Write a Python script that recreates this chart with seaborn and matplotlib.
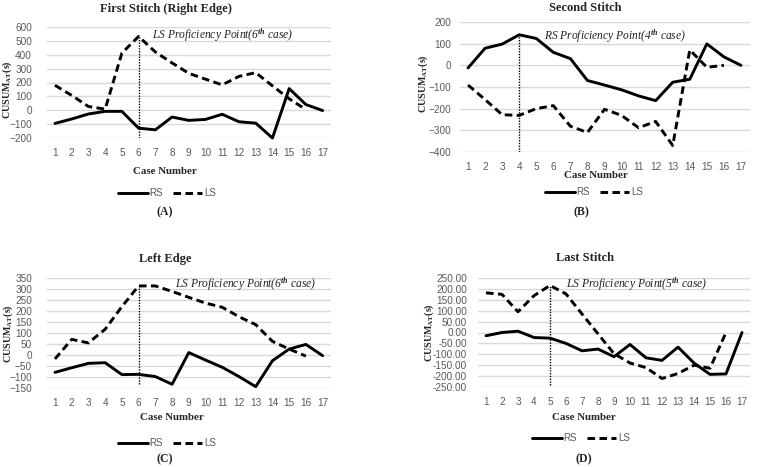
import numpy as np
import pandas as pd
import matplotlib
matplotlib.use("Agg")
import matplotlib.pyplot as plt
import seaborn as sns

# ---------------- data ----------------
cases = list(range(1, 18))
tick_labels = [str(c) for c in cases]

a_rs = [-95, -63, -27, -8, -8, -129, -141, -49, -73, -66, -29, -83, -93, -200, 156, 41, -2]
a_ls = [180, 107, 27, 8, 412, 532, 420, 341, 266, 224, 183, 244, 271, 176, 83, 5]

b_rs = [-12, 79, 98, 141, 124, 60, 31, -70, -91, -113, -141, -163, -78, -64, 99, 39, 0]
b_ls = [-91, -158, -228, -231, -200, -186, -281, -310, -203, -231, -288, -259, -370, 71, -9, 0]

c_rs = [-79, -58, -38, -35, -89, -88, -98, -133, 11, -23, -56, -98, -144, -26, 27, 48, -3]
c_ls = [-18, 71, 55, 117, 220, 314, 314, 289, 262, 236, 217, 174, 138, 62, 27, -5]

d_rs = [-15, 0, 6, -23, -26, -50, -84, -76, -111, -55, -116, -128, -67, -140, -192, -190, 0]
d_ls = [182, 175, 95, 169, 216, 177, 85, -6, -97, -140, -161, -211, -188, -150, -164, 0]

titles = ["First Stitch (Right Edge)", "Second Stitch", "Left Edge", "Last Stitch"]
panel_tags = ["(A)", "(B)", "(C)", "(D)"]
annotations = ["LS Proficiency Point(6$^{th}$ case)", "RS Proficiency Point(4$^{th}$ case)",
               "LS Proficiency Point(6$^{th}$ case)", "LS Proficiency Point(5$^{th}$ case)"]
prof_case = [6, 4, 6, 5]
prof_series = ["LS", "RS", "LS", "LS"]

# ---------------- style ----------------
sns.set_theme(style="white")
plt.rcParams["font.family"] = ["Liberation Sans", "DejaVu Sans"]
plt.rcParams["mathtext.fontset"] = "custom"
plt.rcParams["mathtext.rm"] = "Liberation Serif:bold"
plt.rcParams["mathtext.it"] = "Liberation Serif:italic:bold"
plt.rcParams["mathtext.bf"] = "Liberation Serif:bold"

W, H = 757, 467
fig = plt.figure(figsize=(W / 100, H / 100), dpi=100)

def fx(x):
    return x / W

def fy(y):
    return 1 - y / H

serif = ["Liberation Serif", "DejaVu Serif"]

# pixel layout: (left, right, top, bottom)
boxes = [(46.6, 331, 27, 138), (459.5, 749.5, 22, 152), (46.6, 331, 278, 388), (478, 750, 278, 387)]
ylims = [(-200, 600, 100), (-400, 200, 100), (-150, 350, 50), (-250, 250, 50)]
ypads = [10.5, 6, 10.5, 8]
title_pos = [(166, 9), (585, 8), (165, 259), (585, 258)]
xlabel_pos = [(165, 172), (596, 176), (172, 418), (584, 417)]
ylabel_pos = [(7.5, 90), (423, 84), (8, 334), (429, 333)]
legend_pos = [(167, 193), (594, 192), (167, 443), (581, 438)]
tag_pos = [(165, 212), (581, 212), (165, 459), (584, 459)]
ann_pos = [(6.8, 542), (5.45, 135), (8.2, 323), (6.0, 222)]
vline_bottom = [-200, -400, -130, -240]

series = [(a_rs, a_ls), (b_rs, b_ls), (c_rs, c_ls), (d_rs, d_ls)]

for i, (rs, ls) in enumerate(series):
    l, r, t, b = boxes[i]
    ax = fig.add_axes([fx(l), fy(b), fx(r - l), (b - t) / H])
    ymin, ymax, step = ylims[i]
    ax.set_xlim(0.5, 17.5)
    ax.set_ylim(ymin, ymax)
    ticks = np.arange(ymin, ymax + step / 2, step)
    ax.set_yticks(ticks)
    if i == 3:
        ax.set_yticklabels([f"{v:.2f}" for v in ticks])
    ax.set_xticks(cases)
    ax.set_xticklabels(tick_labels)
    ax.yaxis.grid(True, color="#d9d9d9", lw=1)
    ax.set_axisbelow(True)
    for s in ax.spines.values():
        s.set_visible(False)
    ax.tick_params(axis="both", length=0, labelsize=7.2, colors="#595959")
    ax.tick_params(axis="x", pad=7)
    ax.tick_params(axis="y", pad=ypads[i])

    df_rs = pd.DataFrame({"case": cases[:len(rs)], "value": rs})
    df_ls = pd.DataFrame({"case": cases[:len(ls)], "value": ls})
    sns.lineplot(data=df_rs, x="case", y="value", ax=ax, color="black", lw=2.1,
                 legend=False, label="RS", clip_on=False)
    sns.lineplot(data=df_ls, x="case", y="value", ax=ax, color="black", lw=2.1,
                 linestyle=(0, (2.6, 1.5)), legend=False, label="LS", clip_on=False)
    if ax.get_legend() is not None:
        ax.get_legend().remove()
    ax.set_xlabel("")
    ax.set_ylabel("")

    pc = prof_case[i]
    src = ls if prof_series[i] == "LS" else rs
    ax.vlines(pc, vline_bottom[i], src[pc - 1], colors="black", linestyles=(0, (1, 1)), lw=1)

    ax.text(ann_pos[i][0], ann_pos[i][1], annotations[i], fontsize=8.3, style="italic",
            family=serif, color="#222222", ha="left", va="center")

    fig.text(fx(title_pos[i][0]), fy(title_pos[i][1]), titles[i], ha="center", va="center",
             fontsize=9, fontweight="bold", family=serif)
    fig.text(fx(xlabel_pos[i][0]), fy(xlabel_pos[i][1]), "Case Number", ha="center", va="center",
             fontsize=7.8, fontweight="bold", family=serif)
    fig.text(fx(ylabel_pos[i][0]), fy(ylabel_pos[i][1]), "CUSUM$_{\\mathrm{AT}}$(s)", ha="center",
             va="center", rotation=90, fontsize=7.2, fontweight="bold", family=serif)
    fig.text(fx(tag_pos[i][0]), fy(tag_pos[i][1]), panel_tags[i], ha="center", va="center",
             fontsize=8.5, fontweight="bold", family=serif)

    handles = ax.get_lines()[:2]
    fig.legend(handles, ["RS", "LS"], loc="center", bbox_to_anchor=(fx(legend_pos[i][0]), fy(legend_pos[i][1])),
               ncol=2, frameon=False, fontsize=7, handlelength=3.0, handletextpad=0.2,
               columnspacing=1.0, labelcolor="#595959")

fig.savefig("out.png", dpi=100)
